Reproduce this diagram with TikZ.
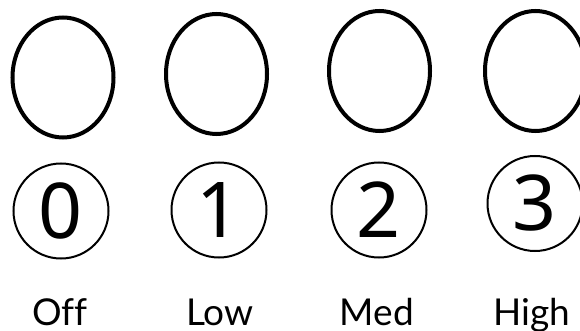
\documentclass[tikz,border=0pt]{standalone}
\usepackage{fontspec}
\setmainfont{Lato}[Ligatures=CommonOff]
\newfontfamily\digitfont{Noto Sans}
\usetikzlibrary{shapes.geometric}
\tikzset{
  knob/.style={draw, ellipse, line width=4pt, minimum width=101pt, minimum height=120pt, inner sep=0pt},
  numring/.style={draw, circle, line width=2pt, minimum size=95pt, inner sep=0pt, font=\digitfont\fontsize{77}{77}\selectfont},
  lbl/.style={anchor=base, inner sep=0pt, font=\fontsize{37}{37}\selectfont}
}
\begin{document}
\begin{tikzpicture}[x=1pt,y=-1pt]
\clip (0,0) rectangle (580,331);
\useasboundingbox (0,0) rectangle (580,331);
\node[knob] (e0) at (63,77.5) {};
\node[knob] (e1) at (216.5,74) {};
\node[knob] (e2) at (379.5,71) {};
\node[knob] (e3) at (535.5,71) {};
\node[numring] (c0) at (61,211) {0};
\node[numring] (c1) at (219,210) {1};
\node[numring] (c2) at (379,210) {2};
\node[numring] (c3) at (535,203.5) {3};
\node[lbl] (l0) at (60,325) {Off};
\node[lbl] (l1) at (220,325) {Low};
\node[lbl] (l2) at (377,325) {Med};
\node[lbl] (l3) at (532,325) {High};
\end{tikzpicture}
\end{document}
